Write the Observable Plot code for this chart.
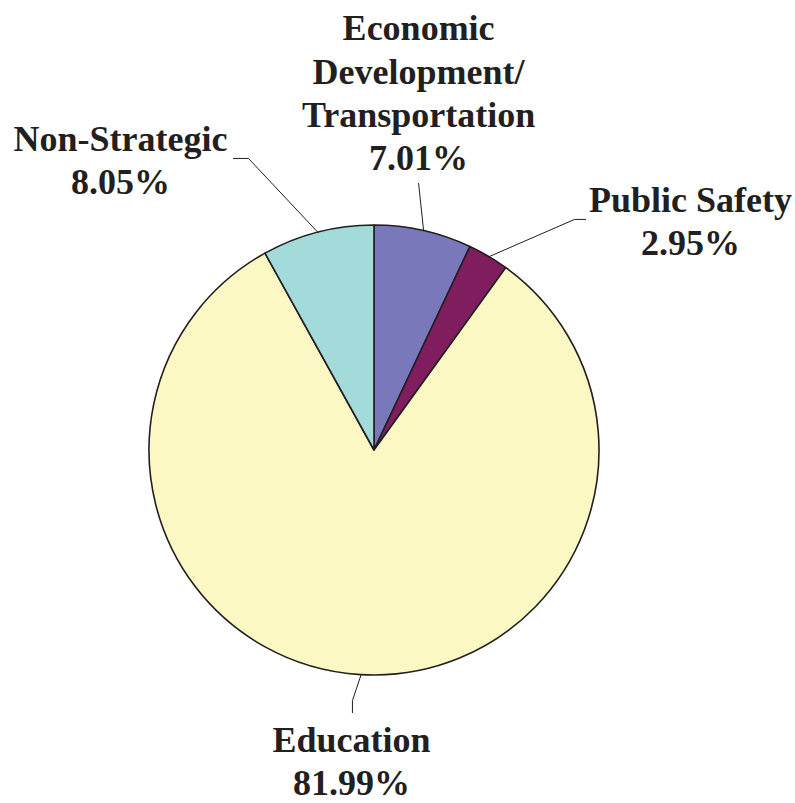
<!DOCTYPE html>
<html><head><meta charset="utf-8">
<script src="https://cdn.jsdelivr.net/npm/d3@7"></script>
<script src="https://cdn.jsdelivr.net/npm/@observablehq/plot@0.6"></script>
<style>body{margin:0;background:#fff}</style>
</head><body><div id="chart"></div>
<script>
const categories = ["Economic Development/Transportation", "Public Safety", "Education", "Non-Strategic"];
const labels = ["Economic\nDevelopment/\nTransportation\n7.01%", "Public Safety\n2.95%", "Education\n81.99%", "Non-Strategic\n8.05%"];
const shares = [7.01, 2.95, 81.99, 8.05];
const colors = ["#7878bb", "#7f1d5e", "#fbf8c4", "#a3dada"];
// label anchor positions (in pie-radius units, relative to centre)
const labelX = [0.196, 1.404, -0.102, -1.129];
const labelY = [1.596, 1.027, -1.374, 1.296];
// leader-line elbows (pie-radius units)
const elbowX = [[0.196], [0.889, 0.938], [-0.098, -0.098], [-0.56, -0.627]];
const elbowY = [[1.187], [1.027, 1.027], [-1.111, -1.165], [1.298, 1.298]];

const arcs = d3.pie().sort(null).value(d => d)(shares);

const leaders = [];
arcs.forEach((a, i) => {
  const m = (a.startAngle + a.endAngle) / 2;
  leaders.push({k: i, x: Math.sin(m), y: Math.cos(m)});
  elbowX[i].forEach((ex, j) => leaders.push({k: i, x: ex, y: elbowY[i][j]}));
});

function pieMark(index, scales) {
  const {x, y} = scales;
  const cx = x(0), cy = y(0), r = Math.abs(x(1) - x(0));
  const g = d3.create("svg:g").attr("transform", `translate(${cx},${cy})`);
  const arc = d3.arc().innerRadius(0).outerRadius(r);
  g.selectAll("path").data(arcs).join("path")
    .attr("d", arc)
    .attr("fill", (d, i) => colors[i])
    .attr("stroke", "#231f20")
    .attr("stroke-width", 1.6)
    .attr("stroke-linejoin", "round");
  return g.node();
}

const idx = d3.range(categories.length);
const chart = Plot.plot({
  width: 795,
  height: 803,
  margin: 0,
  x: {domain: [-374 / 225, 421 / 225], axis: null},
  y: {domain: [-353 / 225, 450 / 225], axis: null},
  marks: [
    pieMark,
    Plot.line(leaders, {x: "x", y: "y", z: "k", stroke: "#231f20", strokeWidth: 1}),
    Plot.text(idx, {
      x: i => labelX[i], y: i => labelY[i], text: i => labels[i],
      fontSize: 36, fontWeight: "bold", fontFamily: "Liberation Serif, Times New Roman, serif",
      lineHeight: 1.2, fill: "#231f20"
    })
  ]
});
document.getElementById("chart").append(chart);
</script>
</body></html>
